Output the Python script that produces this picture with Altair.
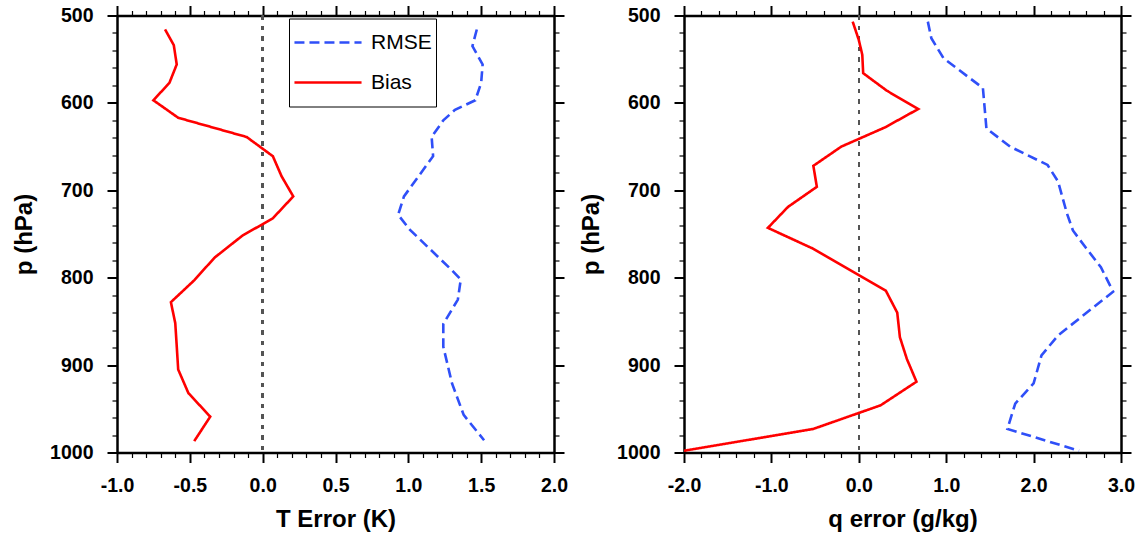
import altair as alt
import pandas as pd

# ---------------- data ----------------
series_names = ["RMSE", "Bias"]
series_colors = ["#2f4ff8", "#ff0000"]

# Left panel: temperature error (K)
t_bias_p = [516, 534, 556, 577, 597, 617, 639, 661, 684, 707, 732, 752, 777, 803, 828, 852, 878, 905, 932, 959, 987]
t_bias = [-0.67, -0.61, -0.59, -0.64, -0.75, -0.58, -0.11, 0.07, 0.13, 0.21, 0.07, -0.14, -0.33, -0.47, -0.63, -0.60, -0.59, -0.58, -0.51, -0.36, -0.47]
t_rmse_p = [516, 535, 556, 577, 597, 608, 620, 639, 661, 707, 728, 745, 790, 802, 825, 853, 879, 921, 957, 986]
t_rmse = [1.47, 1.44, 1.51, 1.50, 1.46, 1.32, 1.24, 1.16, 1.17, 0.97, 0.93, 1.01, 1.29, 1.36, 1.34, 1.24, 1.24, 1.30, 1.38, 1.52]

# Right panel: humidity error (g/kg)
q_bias_p = [507, 528, 545, 566, 586, 607, 628, 650, 672, 696, 719, 743, 766, 815, 840, 868, 893, 919, 946, 973, 998]
q_bias = [-0.07, 0.00, 0.04, 0.05, 0.32, 0.68, 0.30, -0.20, -0.52, -0.48, -0.81, -1.04, -0.54, 0.31, 0.44, 0.47, 0.55, 0.66, 0.25, -0.52, -2.0]
q_rmse_p = [507, 526, 549, 583, 629, 633, 650, 671, 690, 726, 746, 766, 788, 816, 866, 889, 921, 944, 973, 998]
q_rmse = [0.79, 0.83, 0.97, 1.42, 1.46, 1.51, 1.73, 2.16, 2.28, 2.38, 2.45, 2.60, 2.77, 2.91, 2.28, 2.09, 2.00, 1.79, 1.70, 2.52]

t_ticks = [round(-1.0 + 0.1 * i, 1) for i in range(31)]
q_ticks = [round(-2.0 + 0.2 * i, 1) for i in range(26)]
p_ticks = list(range(500, 1001, 20))

FONT = "Liberation Sans"


def make_df(rp, rv, bp, bv):
    return pd.DataFrame({
        "p": rp + bp,
        "value": rv + bv,
        "series": ["RMSE"] * len(rp) + ["Bias"] * len(bp),
    })


def cond(test, major, minor):
    return {"condition": {"test": test, "value": major}, "value": minor}


Y_TEST = "datum.value % 100 === 0"


def panel(df, xdom, xticks, xtest, xtitle, show_legend):
    xscale = alt.Scale(domain=xdom, nice=False, zero=False)
    yscale = alt.Scale(domain=[500, 1000], reverse=True, nice=False, zero=False)

    x_bottom = alt.Axis(
        orient="bottom", values=xticks, title=xtitle,
        labelExpr=f"({xtest}) ? ((datum.value < 0 ? '-' : '') + format(abs(datum.value), '.1f')) : ''",
        tickSize=cond(xtest, 10, 5), tickWidth=cond(xtest, 2, 1.2),
        labelPadding=14, titlePadding=12.5, labelFlush=False, labelOverlap=False, labelBound=False,
    )
    y_left = alt.Axis(
        orient="left", values=p_ticks, title="p (hPa)",
        labelExpr=f"({Y_TEST}) ? datum.value : ''",
        tickSize=cond(Y_TEST, 10, 5), tickWidth=cond(Y_TEST, 2, 1.2),
        labelPadding=14, titlePadding=13, labelOverlap=False, labelFlush=False,
    )
    x_top = alt.Axis(orient="top", values=xticks, labels=False, title=None,
                     tickSize=cond(xtest, 10, 5), tickWidth=cond(xtest, 2, 1.2))
    y_right = alt.Axis(orient="right", values=p_ticks, labels=False, title=None,
                       tickSize=cond(Y_TEST, 10, 5), tickWidth=cond(Y_TEST, 2, 1.2))

    if show_legend:
        legend = alt.Legend(
            orient="none", legendX=172, legendY=3, title=None,
            symbolType="stroke", symbolSize=4500, symbolStrokeWidth=2.5,
            labelFont=FONT, labelFontSize=21, labelColor="black", labelOffset=8,
            strokeColor="black", fillColor="white", padding=4, rowPadding=0,
            clipHeight=40,
        )
    else:
        legend = None

    zero = alt.Chart(df).mark_rule(color="#555555", strokeDash=[4, 6.5], strokeWidth=1.5).encode(
        x=alt.datum(0, scale=xscale, axis=None)
    )

    lines = alt.Chart(df).mark_line(strokeWidth=2.6).encode(
        x=alt.X("value:Q", scale=xscale, axis=x_bottom),
        y=alt.Y("p:Q", scale=yscale, axis=y_left),
        order=alt.Order("p:Q"),
        color=alt.Color("series:N", scale=alt.Scale(domain=series_names, range=series_colors), legend=legend),
        strokeDash=alt.StrokeDash("series:N", scale=alt.Scale(domain=series_names, range=[[10, 5], [1, 0]]), legend=legend),
    )

    frame = alt.Chart(df).mark_line(opacity=0).encode(
        x=alt.X("value:Q", scale=xscale, axis=x_top),
        y=alt.Y("p:Q", scale=yscale, axis=y_right),
        detail="series:N",
        order=alt.Order("p:Q"),
    )

    return alt.layer(zero, lines, frame).resolve_axis(x="independent", y="independent").properties(
        width=437, height=437
    )


left = panel(make_df(t_rmse_p, t_rmse, t_bias_p, t_bias), [-1.0, 2.0], t_ticks,
             "abs(datum.value*2 - round(datum.value*2)) < 0.001", "T Error (K)", True)
right = panel(make_df(q_rmse_p, q_rmse, q_bias_p, q_bias), [-2.0, 3.0], q_ticks,
              "abs(datum.value - round(datum.value)) < 0.001", "q error (g/kg)", False)

chart = alt.hconcat(left, right, spacing=11).properties(
    padding={"left": 12, "top": 4.5, "right": 2, "bottom": 0},
    background="white",
).configure_view(stroke=None).configure_axis(
    grid=False, domain=True, domainWidth=2.5, domainColor="black", tickColor="black",
    labelFont=FONT, labelFontWeight="bold", labelFontSize=19.5, labelColor="black",
    titleFont=FONT, titleFontWeight="bold", titleFontSize=24, titleColor="black",
)

chart.save("out.html", embed_options={"renderer": "svg", "actions": False})
